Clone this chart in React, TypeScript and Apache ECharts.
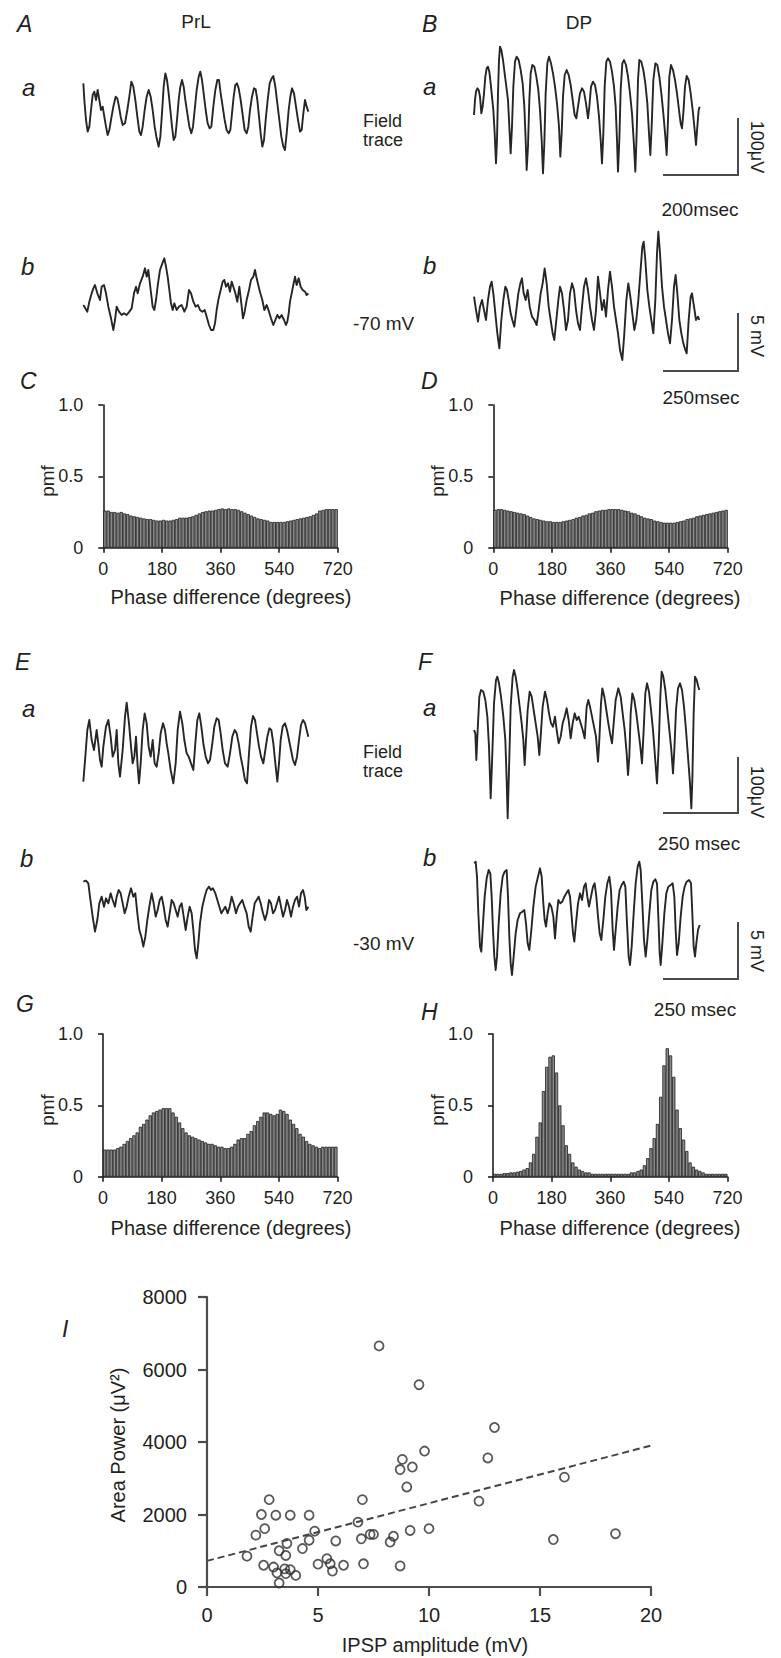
import React, { useEffect, useRef } from "react";
import * as echarts from "echarts";

const FONT = "'Liberation Sans', Arial, Helvetica, sans-serif";
const INK = "#231f20";

// ---------- Traces (digitised: x = sample position, y = deflection, screen-down positive) ----------
const traceAa: number[][] = [[250,250],[253,300],[258,360],[263,395],[268,380],[273,330],[278,285],[283,275],[288,300],[293,270],[298,300],[303,330],[308,320],[313,350],[318,380],[323,405],[328,390],[333,360],[340,320],[347,290],[352,295],[357,320],[362,350],[368,375],[375,370],[382,330],[388,290],[394,245],[400,260],[406,300],[412,350],[418,395],[423,405],[428,380],[434,330],[440,290],[446,270],[452,290],[458,330],[464,380],[470,415],[476,440],[481,410],[486,340],[491,260],[496,220],[501,240],[506,280],[511,330],[516,380],[521,420],[526,410],[531,360],[536,300],[541,260],[546,240],[551,260],[556,300],[562,340],[568,380],[574,400],[579,380],[584,330],[590,270],[596,230],[601,215],[606,240],[611,280],[617,330],[623,370],[629,385],[634,380],[640,320],[646,270],[652,240],[657,240],[662,280],[668,320],[674,360],[680,390],[686,400],[691,390],[696,340],[701,290],[706,255],[711,250],[716,265],[722,300],[728,345],[734,390],[740,400],[745,380],[750,330],[756,290],[762,265],[767,268],[772,300],[777,350],[782,400],[787,440],[792,420],[797,360],[803,300],[809,250],[815,235],[820,228],[826,260],[832,310],[838,360],[844,410],[850,440],[855,450],[860,400],[866,330],[871,290],[876,265],[882,280],[888,320],[894,360],[900,395],[905,390],[910,340],[915,300],[920,320],[925,335]];

const traceAb: number[][] = [[250,915],[256,925],[262,935],[268,905],[275,880],[280,865],[285,855],[292,880],[300,900],[305,860],[312,855],[318,880],[325,920],[333,955],[340,990],[345,960],[350,920],[357,935],[365,945],[372,940],[380,945],[388,935],[395,925],[402,880],[408,860],[413,880],[420,850],[428,830],[435,805],[440,830],[445,810],[452,870],[458,920],[463,930],[468,900],[474,850],[480,810],[487,790],[493,775],[498,800],[503,830],[508,870],[513,910],[518,930],[523,910],[530,930],[537,920],[545,915],[553,935],[560,920],[567,870],[573,880],[580,905],[587,920],[594,915],[600,930],[607,935],[614,930],[620,950],[627,975],[633,990],[640,990],[645,970],[650,930],[655,900],[662,870],[668,845],[673,840],[678,860],[684,850],[690,875],[695,845],[700,860],[706,880],[712,905],[718,860],[724,910],[729,955],[734,935],[740,900],[747,870],[753,840],[760,830],[765,810],[770,835],[776,860],[781,880],[787,900],[793,930],[800,915],[807,935],[813,955],[820,975],[826,960],[832,945],[838,955],[845,945],[852,960],[858,975],[862,965],[866,940],[870,905],[875,880],[880,855],[885,830],[890,855],[896,835],[902,860],[908,870],[915,875],[920,885],[925,880]];

const traceBa: number[][] = [[252,345],[255,300],[258,275],[262,265],[266,270],[270,290],[274,340],[278,320],[282,280],[286,230],[290,205],[294,200],[298,215],[302,250],[306,290],[310,330],[314,400],[318,490],[321,420],[324,280],[327,180],[330,140],[334,150],[339,180],[344,220],[349,260],[354,300],[358,380],[362,460],[366,380],[370,260],[375,185],[380,170],[386,180],[392,210],[398,250],[403,320],[407,420],[410,510],[414,440],[418,300],[422,220],[427,195],[433,200],[439,230],[445,270],[450,330],[455,420],[459,520],[463,430],[467,280],[472,190],[477,170],[483,190],[489,220],[495,260],[501,310],[507,380],[511,470],[515,400],[519,290],[524,225],[530,210],[536,225],[542,255],[548,300],[554,345],[559,355],[564,320],[570,280],[576,265],[582,275],[588,310],[594,355],[598,320],[603,260],[609,245],[615,255],[621,290],[627,350],[632,420],[636,490],[640,400],[644,260],[649,185],[654,175],[660,185],[666,215],[672,260],[677,320],[681,420],[684,515],[688,420],[692,270],[697,190],[702,180],[708,195],[714,230],[720,280],[726,340],[731,420],[736,515],[740,400],[744,240],[748,180],[754,185],[760,210],[766,250],[772,310],[777,400],[781,465],[785,380],[790,240],[796,190],[802,195],[808,230],[814,280],[820,340],[826,410],[830,465],[834,360],[838,230],[843,195],[849,210],[855,240],[861,280],[867,330],[872,370],[876,385],[880,340],[885,260],[890,228],[896,240],[902,280],[908,330],[914,390],[918,435],[922,380],[926,330],[929,320]];

const traceBb: number[][] = [[252,890],[258,930],[264,965],[270,920],[276,900],[282,930],[288,960],[294,900],[300,860],[305,845],[310,880],[316,940],[322,1000],[328,1045],[334,960],[340,900],[346,860],[351,870],[356,900],[362,940],[367,960],[373,980],[379,930],[385,880],[391,850],[396,835],[401,880],[407,900],[413,870],[419,920],[426,950],[433,960],[440,975],[446,930],[452,880],[458,850],[464,805],[470,850],[476,920],[482,960],[488,1000],[493,1020],[499,960],[505,900],[510,860],[516,880],[522,930],[528,990],[534,960],[540,880],[546,850],[552,870],[558,930],[564,970],[570,990],[576,920],[582,860],[588,835],[594,870],[600,920],[606,960],[612,990],[618,930],[624,830],[630,880],[636,930],[642,900],[648,950],[654,870],[660,815],[666,860],[672,920],[678,960],[684,1000],[690,1050],[697,1080],[703,1000],[709,900],[715,850],[721,890],[727,940],[733,990],[739,960],[745,900],[751,820],[757,740],[761,725],[766,780],[772,870],[778,920],[784,960],[790,1000],[796,900],[801,760],[805,695],[810,760],[816,860],[822,920],[828,960],[834,1000],[840,1030],[846,960],[852,860],[857,825],[862,880],[868,960],[874,1000],[880,1030],[886,1050],[890,1060],[896,960],[902,890],[906,880],[912,920],[918,960],[924,950],[928,960]];

const traceEa: number[][] = [[250,455],[256,380],[262,300],[268,270],[275,330],[282,360],[290,300],[296,350],[300,390],[305,410],[310,350],[318,290],[325,270],[332,320],[338,380],[345,360],[350,300],[355,400],[360,440],[368,360],[375,260],[380,218],[387,280],[393,350],[398,400],[403,380],[408,320],[413,410],[417,460],[422,400],[428,300],[434,250],[440,280],[446,350],[452,380],[458,330],[464,400],[470,410],[476,370],[482,310],[489,280],[495,300],[500,340],[505,370],[512,420],[520,460],[527,400],[533,300],[540,245],[547,280],[553,330],[560,370],[566,380],[573,400],[580,420],[586,340],[592,270],[598,250],[604,290],[610,340],[617,380],[624,400],[630,390],[637,340],[643,290],[650,265],[656,270],[662,310],[668,360],[675,400],[683,410],[690,370],[697,320],[704,300],[710,310],[716,340],[722,380],[728,410],[735,450],[741,460],[747,370],[753,290],[759,258],[765,270],[771,310],[777,350],[783,380],[790,400],[796,360],[802,320],[808,295],[814,300],[820,340],[826,400],[832,455],[837,400],[842,330],[848,290],[855,280],[861,300],[867,330],[873,360],[879,390],[885,405],[891,380],[897,330],[903,285],[909,270],[915,280],[920,300],[925,320]];

const traceEb: number[][] = [[250,755],[258,752],[265,760],[270,800],[278,860],[285,905],[292,870],[298,820],[305,800],[312,830],[318,805],[325,820],[332,790],[338,810],[345,830],[350,800],[356,780],[362,790],[368,820],[374,850],[380,830],[386,800],[393,775],[400,800],[406,790],[412,850],[418,900],[424,920],[430,950],[436,920],[442,870],[448,830],[455,790],[461,820],[467,860],[473,840],[479,810],[485,800],[491,830],[497,870],[503,890],[509,850],[515,810],[521,820],[527,840],[533,860],[539,830],[545,820],[551,860],[557,900],[563,860],[569,830],[575,850],[580,900],[585,960],[590,985],[595,940],[600,880],[607,830],[614,800],[620,780],[627,770],[633,780],[639,775],[646,790],[652,810],[658,830],[664,850],[670,840],[676,830],[683,850],[689,830],[695,800],[701,820],[708,850],[714,830],[720,820],[727,810],[733,830],[740,850],[746,890],[752,905],[758,860],[764,820],[770,810],[776,800],[782,820],[789,850],[795,870],[801,850],[807,810],[813,820],[819,850],[825,840],[831,820],[837,800],[843,830],[849,860],[855,840],[861,810],[867,830],[873,860],[879,830],[885,810],[891,800],[897,830],[903,790],[909,780],[914,800],[919,840],[925,830]];

const traceFa: number[][] = [[252,300],[256,310],[259,390],[263,300],[268,200],[273,180],[280,185],[286,210],[292,260],[297,350],[302,505],[306,400],[312,220],[318,150],[322,140],[327,160],[333,200],[340,260],[346,330],[350,450],[353,565],[357,420],[362,230],[368,140],[372,120],[377,140],[383,180],[389,230],[395,280],[400,330],[404,405],[408,330],[413,240],[419,185],[425,200],[431,240],[437,280],[443,320],[448,375],[452,320],[458,230],[465,185],[471,210],[477,250],[483,280],[489,290],[495,260],[500,300],[506,340],[512,320],[518,280],[524,260],[530,235],[536,270],[542,325],[548,280],[554,250],[560,270],[566,260],[572,280],[578,300],[584,325],[590,230],[595,210],[600,230],[606,260],[612,290],[618,320],[624,395],[628,330],[633,220],[637,175],[643,200],[649,240],[655,280],[660,310],[666,340],[671,280],[677,210],[685,175],[692,200],[698,250],[704,300],[710,370],[714,435],[718,380],[722,250],[727,190],[733,210],[739,250],[745,300],[751,350],[756,400],[761,300],[766,190],[771,160],[777,185],[783,240],[789,300],[795,380],[801,460],[806,350],[811,200],[815,125],[820,140],[826,180],[832,240],[838,300],[844,360],[849,430],[853,360],[858,240],[864,175],[870,160],[876,180],[882,230],[888,300],[894,380],[900,460],[904,535],[907,450],[911,250],[915,140],[920,150],[925,170],[928,180]];

const traceFb: number[][] = [[253,700],[257,695],[261,740],[265,850],[270,950],[274,965],[279,880],[284,800],[290,745],[296,720],[301,730],[305,800],[309,900],[313,980],[317,1020],[321,980],[326,880],[332,790],[338,740],[344,725],[350,720],[354,800],[358,920],[362,1000],[366,1035],[371,980],[377,910],[383,870],[390,850],[397,845],[403,840],[408,880],[413,940],[418,960],[424,900],[430,830],[437,770],[444,740],[450,715],[455,740],[460,820],[464,870],[468,890],[473,850],[478,820],[484,830],[490,860],[495,925],[500,860],[505,810],[511,820],[517,815],[523,800],[529,790],[535,780],[540,800],[545,860],[549,910],[553,935],[558,880],[564,820],[570,790],[576,810],[582,770],[587,760],[592,800],[597,830],[603,800],[609,770],[614,760],[619,800],[624,860],[629,910],[634,930],[640,870],[646,800],[652,760],[658,740],[663,780],[668,900],[672,960],[677,900],[683,830],[689,780],[695,765],[701,755],[706,770],[711,880],[716,980],[720,1005],[725,950],[731,850],[737,760],[743,710],[748,695],[752,720],[757,820],[762,930],[767,980],[772,930],[778,850],[784,780],[790,755],[796,748],[801,760],[805,860],[809,970],[812,1005],[817,940],[823,850],[829,790],[835,770],[842,765],[848,760],[853,800],[857,900],[861,975],[866,940],[872,860],[878,800],[884,770],[890,755],[897,750],[903,760],[907,850],[911,950],[915,980],[919,940],[924,900],[929,885]];

// ---------- Phase-difference histograms (10-degree bins, 0..720) ----------
const phaseTicks = [0, 180, 360, 540, 720];
const pmfTicks = [0, 0.5, 1.0];
const binDeg = 10;
const pmfC = [0.26,0.26,0.25,0.25,0.245,0.25,0.24,0.235,0.225,0.22,0.215,0.21,0.205,0.2,0.2,0.195,0.19,0.19,0.195,0.19,0.19,0.195,0.2,0.21,0.21,0.21,0.215,0.22,0.23,0.24,0.25,0.255,0.26,0.26,0.265,0.27,0.275,0.27,0.275,0.27,0.27,0.265,0.255,0.245,0.235,0.225,0.215,0.205,0.2,0.195,0.19,0.18,0.18,0.18,0.18,0.18,0.185,0.19,0.195,0.2,0.205,0.21,0.215,0.22,0.23,0.24,0.26,0.265,0.27,0.27,0.27,0.27];
const pmfD = [0.265,0.27,0.27,0.265,0.26,0.255,0.25,0.245,0.24,0.235,0.225,0.215,0.205,0.2,0.195,0.19,0.185,0.185,0.18,0.18,0.18,0.185,0.19,0.195,0.2,0.21,0.215,0.225,0.23,0.24,0.245,0.255,0.26,0.265,0.265,0.27,0.27,0.27,0.27,0.265,0.26,0.255,0.245,0.24,0.23,0.22,0.21,0.205,0.2,0.19,0.185,0.18,0.175,0.175,0.175,0.175,0.18,0.185,0.19,0.2,0.205,0.21,0.22,0.225,0.23,0.235,0.24,0.245,0.25,0.255,0.26,0.265];
const pmfG = [0.19,0.19,0.19,0.19,0.2,0.21,0.23,0.25,0.27,0.29,0.31,0.35,0.37,0.4,0.43,0.45,0.46,0.47,0.48,0.48,0.48,0.45,0.42,0.38,0.34,0.31,0.29,0.28,0.27,0.26,0.25,0.24,0.23,0.23,0.22,0.21,0.21,0.2,0.2,0.21,0.23,0.26,0.27,0.27,0.3,0.32,0.36,0.39,0.42,0.45,0.45,0.44,0.43,0.44,0.47,0.46,0.44,0.4,0.37,0.34,0.3,0.28,0.25,0.23,0.22,0.21,0.2,0.21,0.21,0.21,0.21,0.21];
const pmfH = [0.02,0.02,0.02,0.025,0.025,0.03,0.03,0.035,0.04,0.05,0.06,0.1,0.16,0.28,0.38,0.6,0.77,0.84,0.85,0.73,0.5,0.36,0.22,0.16,0.1,0.07,0.05,0.04,0.03,0.03,0.02,0.02,0.02,0.02,0.02,0.02,0.02,0.02,0.02,0.02,0.02,0.02,0.03,0.03,0.04,0.05,0.08,0.13,0.2,0.27,0.37,0.56,0.78,0.9,0.85,0.7,0.47,0.34,0.26,0.18,0.1,0.07,0.05,0.04,0.03,0.02,0.02,0.02,0.02,0.02,0.02,0.02];

// ---------- Scatter I ----------
const ipspAmp = [7.75,9.55,9.8,8.8,8.7,9.25,9.0,2.8,7.0,2.45,3.1,3.75,4.6,2.6,2.2,6.8,4.85,4.6,3.6,3.25,4.3,5.8,6.95,7.35,7.5,8.4,8.25,9.15,10.0,1.8,3.55,2.55,3.0,3.15,3.5,3.75,4.0,3.55,3.25,5.0,5.4,5.55,5.65,6.15,7.05,8.7,12.95,12.65,12.25,16.1,15.6,18.4];
const areaPower = [6650,5580,3750,3520,3240,3310,2760,2410,2410,2000,1980,1980,1980,1610,1430,1790,1540,1290,1200,1000,1060,1270,1330,1450,1450,1400,1240,1560,1610,850,870,600,550,390,500,480,320,370,110,630,780,640,440,600,640,580,4400,3560,2370,3030,1310,1470];
const fitX = [0, 20];
const fitY = [720, 3900];
const ampTicks = [0, 5, 10, 15, 20];
const powerTicks = [0, 2000, 4000, 6000, 8000];

// ---------- Layout (positions only) ----------
const traceFrames = [
  { data: traceAa, ox: 0, oy: 0, x0: 247, x1: 930, y0: 200, y1: 460 },
  { data: traceAb, ox: 0, oy: 0, x0: 247, x1: 930, y0: 760, y1: 1020 },
  { data: traceBa, ox: 390, oy: 0, x0: 247, x1: 935, y0: 130, y1: 530 },
  { data: traceBb, ox: 390, oy: 0, x0: 247, x1: 935, y0: 685, y1: 1090 },
  { data: traceEa, ox: 0, oy: 630, x0: 247, x1: 930, y0: 210, y1: 470 },
  { data: traceEb, ox: 0, oy: 630, x0: 247, x1: 930, y0: 735, y1: 1000 },
  { data: traceFa, ox: 390, oy: 630, x0: 247, x1: 935, y0: 110, y1: 575 },
  { data: traceFb, ox: 390, oy: 630, x0: 247, x1: 935, y0: 685, y1: 1045 },
];
const HW = 234.5;
const HH = 142.7;
const histFrames = [
  { data: pmfC, left: 103.3, top: 405 },
  { data: pmfD, left: 493.3, top: 405 },
  { data: pmfG, left: 103, top: 1034 },
  { data: pmfH, left: 493, top: 1034 },
];

function txt(text: string, x: number, y: number, size: number, o: any = {}) {
  return {
    type: "text",
    x,
    y,
    rotation: o.rot || 0,
    silent: true,
    style: {
      text,
      fill: INK,
      fontSize: size,
      fontFamily: FONT,
      fontStyle: o.italic ? "italic" : "normal",
      align: o.align || "left",
      verticalAlign: "middle",
    },
  };
}
function bar(points: number[][]) {
  return {
    type: "polyline",
    silent: true,
    shape: { points },
    style: { stroke: "#4a4a4a", lineWidth: 2, fill: "none" },
  };
}

export default function App() {
  const ref = useRef<HTMLDivElement>(null);
  useEffect(() => {
    document.body.style.margin = "0";
    const chart = echarts.init(ref.current as HTMLDivElement, null, {
      renderer: "svg",
      width: 781,
      height: 1658,
    });
    const grids: any[] = [];
    const xAxes: any[] = [];
    const yAxes: any[] = [];
    const series: any[] = [];

    traceFrames.forEach((f) => {
      const gi = grids.length;
      grids.push({
        left: f.ox + f.x0 / 3,
        top: f.oy + f.y0 / 3,
        width: (f.x1 - f.x0) / 3,
        height: (f.y1 - f.y0) / 3,
        containLabel: false,
        outerBoundsMode: "none",
      });
      xAxes.push({ type: "value", gridIndex: gi, min: f.x0, max: f.x1, show: false });
      yAxes.push({ type: "value", gridIndex: gi, min: f.y0, max: f.y1, inverse: true, show: false });
      series.push({
        type: "line",
        xAxisIndex: gi,
        yAxisIndex: gi,
        data: f.data,
        showSymbol: false,
        symbol: "none",
        clip: false,
        silent: true,
        lineStyle: { color: "#262626", width: 1.9, join: "round" },
      });
    });

    const axisLineStyle = { color: INK, width: 1.6 };
    histFrames.forEach((h) => {
      const gi = grids.length;
      grids.push({ left: h.left, top: h.top, width: HW, height: HH, containLabel: false, outerBoundsMode: "none" });
      xAxes.push({
        type: "value",
        gridIndex: gi,
        min: phaseTicks[0],
        max: phaseTicks[phaseTicks.length - 1],
        interval: phaseTicks[1] - phaseTicks[0],
        axisLine: { show: true, onZero: false, lineStyle: axisLineStyle },
        axisTick: { show: true, length: 5, lineStyle: axisLineStyle },
        axisLabel: { show: true, margin: 12, fontSize: 18, color: INK, fontFamily: FONT },
        splitLine: { show: false },
      });
      yAxes.push({
        type: "value",
        gridIndex: gi,
        min: pmfTicks[0],
        max: pmfTicks[pmfTicks.length - 1],
        interval: pmfTicks[1] - pmfTicks[0],
        axisLine: { show: true, onZero: false, lineStyle: axisLineStyle },
        axisTick: { show: true, length: 5, lineStyle: axisLineStyle },
        axisLabel: {
          show: true,
          margin: 20,
          fontSize: 18,
          color: INK,
          fontFamily: FONT,
          padding: [10, 0, 0, 0],
          formatter: (v: number) => (v === 0 ? "0" : v.toFixed(1)),
        },
        splitLine: { show: false },
      });
      series.push({
        type: "bar",
        xAxisIndex: gi,
        yAxisIndex: gi,
        data: h.data.map((v, i) => [i * binDeg + binDeg / 2, v]),
        barWidth: HW / h.data.length,
        silent: true,
        itemStyle: { color: "#8a8a8a", borderColor: "#161616", borderWidth: 0.75 },
      });
    });

    // Scatter I
    const si = grids.length;
    const sLine = { color: "#4d4d4d", width: 2.2 };
    grids.push({ left: 207, top: 1297, width: 444, height: 290, containLabel: false, outerBoundsMode: "none" });
    xAxes.push({
      type: "value",
      gridIndex: si,
      min: ampTicks[0],
      max: ampTicks[ampTicks.length - 1],
      interval: ampTicks[1] - ampTicks[0],
      axisLine: { show: true, onZero: false, lineStyle: sLine },
      axisTick: { show: true, length: 9, lineStyle: sLine },
      axisLabel: { show: true, margin: 18, fontSize: 20, color: INK, fontFamily: FONT, formatter: (v: number) => String(v) },
      splitLine: { show: false },
    });
    yAxes.push({
      type: "value",
      gridIndex: si,
      min: powerTicks[0],
      max: powerTicks[powerTicks.length - 1],
      interval: powerTicks[1] - powerTicks[0],
      axisLine: { show: true, onZero: false, lineStyle: sLine },
      axisTick: { show: true, length: 9, lineStyle: sLine },
      axisLabel: {
        show: true,
        margin: 20,
        fontSize: 20,
        color: INK,
        fontFamily: FONT,
        padding: [10, 0, 0, 0],
        formatter: (v: number) => String(v),
      },
      splitLine: { show: false },
    });
    series.push({
      type: "line",
      xAxisIndex: si,
      yAxisIndex: si,
      data: fitX.map((x, i) => [x, fitY[i]]),
      showSymbol: false,
      symbol: "none",
      silent: true,
      lineStyle: { color: "#444", width: 2, type: [7, 4] },
    });
    series.push({
      type: "scatter",
      xAxisIndex: si,
      yAxisIndex: si,
      data: ipspAmp.map((x, i) => [x, areaPower[i]]),
      symbol: "circle",
      symbolSize: 9,
      silent: true,
      itemStyle: { color: "rgba(255,255,255,0)", borderColor: "#2e2e2e", borderWidth: 1.8 },
    });

    const graphic: any[] = [
      // panel letters
      txt("A", 17, 24, 23, { italic: true }),
      txt("B", 422, 24, 23, { italic: true }),
      txt("C", 20, 381, 23, { italic: true }),
      txt("D", 421, 381, 23, { italic: true }),
      txt("E", 15, 662, 23, { italic: true }),
      txt("F", 418, 662, 23, { italic: true }),
      txt("G", 16, 1004, 23, { italic: true }),
      txt("H", 421, 1012, 23, { italic: true }),
      txt("I", 62, 1329, 23, { italic: true }),
      // sub letters
      txt("a", 22, 87, 24, { italic: true }),
      txt("b", 21, 266, 24, { italic: true }),
      txt("a", 423, 86, 24, { italic: true }),
      txt("b", 423, 265, 24, { italic: true }),
      txt("a", 22, 708, 24, { italic: true }),
      txt("b", 20, 858, 24, { italic: true }),
      txt("a", 423, 707, 24, { italic: true }),
      txt("b", 423, 857, 24, { italic: true }),
      // column titles
      txt("PrL", 196, 21, 19, { align: "center" }),
      txt("DP", 579, 22, 19, { align: "center" }),
      txt("Field", 363, 121, 18),
      txt("trace", 363, 140, 18),
      txt("Field", 363, 752, 18),
      txt("trace", 363, 771, 18),
      txt("-70 mV", 353, 323, 19),
      txt("-30 mV", 353, 943, 19),
      // scale bar labels
      txt("100\u03bcV", 757, 147, 18, { align: "center", rot: -Math.PI / 2 }),
      txt("200msec", 700, 209, 19, { align: "center" }),
      txt("5 mV", 757, 336, 18, { align: "center", rot: -Math.PI / 2 }),
      txt("250msec", 701, 397, 19, { align: "center" }),
      txt("100\u03bcV", 757, 792, 18, { align: "center", rot: -Math.PI / 2 }),
      txt("250 msec", 699, 843, 19, { align: "center" }),
      txt("5 mV", 757, 951, 18, { align: "center", rot: -Math.PI / 2 }),
      txt("250 msec", 695, 1009, 19, { align: "center" }),
      // histogram axis titles
      txt("pmf", 47, 481, 19, { align: "center", rot: Math.PI / 2 }),
      txt("pmf", 437, 481, 19, { align: "center", rot: Math.PI / 2 }),
      txt("pmf", 47, 1110, 19, { align: "center", rot: Math.PI / 2 }),
      txt("pmf", 437, 1110, 19, { align: "center", rot: Math.PI / 2 }),
      txt("Phase difference (degrees)", 231, 597, 20, { align: "center" }),
      txt("Phase difference (degrees)", 620, 598, 20, { align: "center" }),
      txt("Phase difference (degrees)", 231, 1228, 20, { align: "center" }),
      txt("Phase difference (degrees)", 620, 1228, 20, { align: "center" }),
      // scatter titles
      txt("IPSP amplitude (mV)", 435, 1645, 20, { align: "center" }),
      txt("Area Power (\u03bcV\u00b2)", 118, 1445, 20, { align: "center", rot: Math.PI / 2 }),
      // scale bars
      bar([[663, 175], [738, 175], [738, 118]]),
      bar([[663, 371], [738, 371], [738, 313]]),
      bar([[663, 813], [738, 813], [738, 757]]),
      bar([[663, 979], [738, 979], [738, 922]]),
    ];

    chart.setOption({
      animation: false,
      backgroundColor: "#ffffff",
      grid: grids,
      xAxis: xAxes,
      yAxis: yAxes,
      series,
      graphic,
    });
    return () => chart.dispose();
  }, []);
  return <div ref={ref} style={{ width: 781, height: 1658 }} />;
}
